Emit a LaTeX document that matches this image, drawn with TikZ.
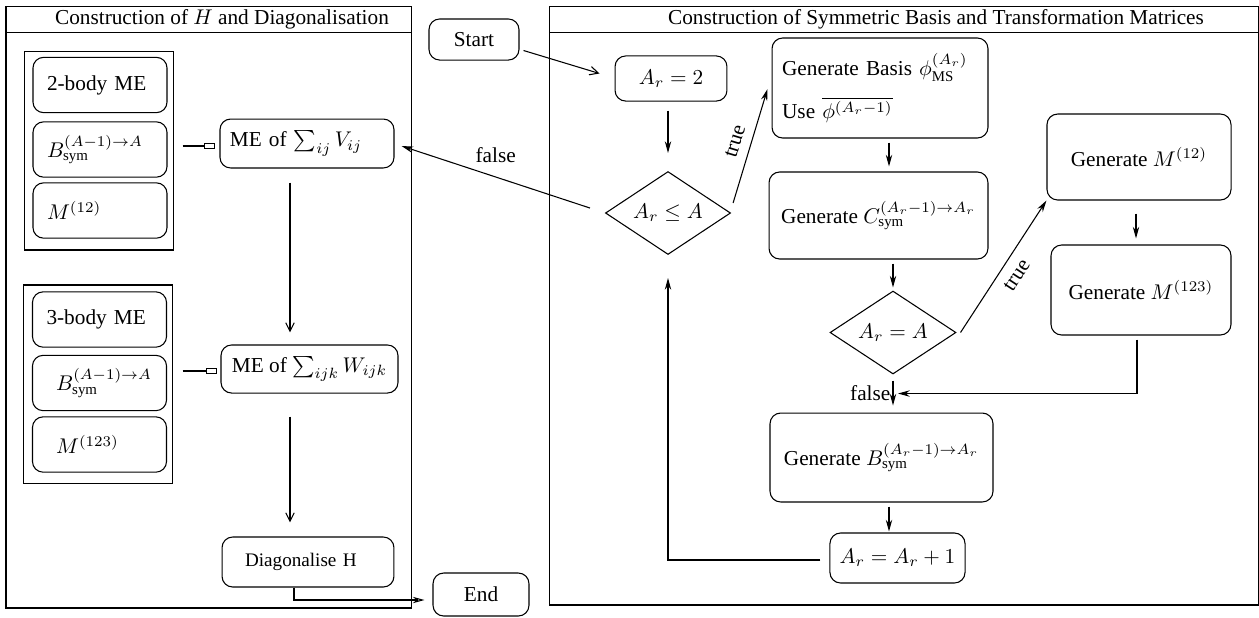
\documentclass[tikz,border=0pt]{standalone}
\usepackage{amsmath}
\usepackage{amssymb}
\usepackage[no-math]{fontspec}
\setmainfont{Liberation Serif}
\usetikzlibrary{shapes.geometric,arrows.meta}

\begin{document}
\begin{tikzpicture}[x=0.47pt,y=-0.47pt,line width=0.5pt,>={Stealth[length=5.5pt,width=3pt]},
box/.style={draw,rounded corners=5pt,inner sep=0pt},grp/.style={draw,inner sep=0pt},
dec/.style={draw,diamond,aspect=1.5,inner sep=0pt},
lab/.style={sloped,above=1pt,pos=0.5},lab1/.style={sloped,below=1pt,pos=0.5},
bar/.style={-{Rectangle[open,length=5.2pt,width=2.8pt]}},
vee/.style={-{Straight Barb[length=4pt,width=4pt]}}]
\useasboundingbox (0,0) rectangle (1259,617);
% the two panels
\node[grp,minimum width=190.6pt,minimum height=282.9pt] (pL) at (208.75,307) {};
\node[grp,minimum width=332.8pt,minimum height=281.5pt] (pR) at (904,305.5) {};
\draw ([shift={(0,27)}]pL.north west) -- ([shift={(0,27)}]pL.north east);
\draw ([shift={(0,27)}]pR.north west) -- ([shift={(0,27)}]pR.north east);
\node (tL) at (222,19) {Construction of $H$ and Diagonalisation};
\node (tR) at (936,19) {Construction of Symmetric Basis and Transformation Matrices};
% left panel
\node[grp,minimum width=69.6pt,minimum height=93.5pt] (g1) at (99,150.5) {};
\node[grp,minimum width=69.6pt,minimum height=93.1pt] (g2) at (98,384) {};
\foreach \n/\x/\y/\txt in {b1/100/85/{2-body ME},b2/100/149.5/{$B_{\text{sym}}^{(A-1)\to A}$},b3/100/210.5/{$M^{(12)}$},
  b4/99.5/319.5/{3-body ME},b5/99.5/383/{\hspace*{4.5pt}$B_{\text{sym}}^{(A-1)\to A}$},b6/99.5/444.5/{\hspace*{4.5pt}$M^{(123)}$}}
  {\node[box,minimum width=63pt,minimum height=26pt,text width=49.8pt,align=left] (\n) at (\x,\y) {\txt};};
\node[box,minimum width=81.8pt,minimum height=23pt,text width=72.4pt,align=left] (meV) at (307,143.5) {ME of $\sum_{ij}V_{ij}$};
\node[box,minimum width=83.2pt,minimum height=22.6pt] (meW) at (309.5,369) {ME of $\sum_{ijk}W_{ijk}$};
\node[box,minimum width=80.8pt,minimum height=23.5pt,text width=59.2pt,align=left,font=\small] (diag) at (308,562) {Diagonalise H};
\node[box,minimum width=42.3pt,minimum height=19.3pt] (start) at (474,39.5) {Start};
\node[box,minimum width=45.1pt,minimum height=20.2pt] (finish) at (481,594.5) {End};
% right panel
\node[box,minimum width=52.6pt,minimum height=21.2pt] (ar2) at (671,78.5) {$A_r=2$};
\node[dec,minimum width=58.8pt,minimum height=39pt] (d1) at (668,213) {$A_r\leq A$};
\node[box,minimum width=101.5pt,minimum height=47pt,text width=92pt,align=left] (basis) at (880,88) {Generate Basis $\phi^{(A_r)}_{\text{MS}}$\\[6pt]Use $\overline{\phi^{(A_r-1)}}$};
\node[box,minimum width=102.9pt,minimum height=40.9pt] (cgen) at (878.5,215.5) {Generate $C_{\text{sym}}^{(A_r-1)\to A_r}$};
\node[dec,minimum width=59.2pt,minimum height=39pt] (d2) at (893,332.5) {$A_r=A$};
\node[box,minimum width=86.5pt,minimum height=40.4pt] (m12) at (1139,157) {Generate $M^{(12)}$};
\node[box,minimum width=84.6pt,minimum height=42.3pt] (m123) at (1141,290) {Generate $M^{(123)}$};
\node[box,minimum width=104.8pt,minimum height=41.8pt] (bgen) at (881.5,457.5) {Generate $B_{\text{sym}}^{(A_r-1)\to A_r}$};
\node[box,minimum width=63.5pt,minimum height=23.5pt] (arp1) at (897.5,558) {$A_r=A_r+1$};
% connectors
\draw[vee] ([shift={(4,11)}]start.east) -- ([shift={(-15,-5)}]ar2.west);
\draw[->] ([shift={(-3,9)}]ar2.south) -- ([shift={(0,-18)}]d1.north);
\draw[->] ([shift={(2,-10)}]d1.east) -- node[lab]{true} ([shift={(-4,1)}]basis.west);
\draw[->] ([shift={(-15,-5)}]d1.west) -- node[above=3pt]{false} ([shift={(7,2.5)}]meV.east);
\draw[->] ([shift={(9,4)}]basis.south) -- ([shift={(10.5,-5)}]cgen.north);
\draw[->] ([shift={(14.5,4)}]cgen.south) -- ([shift={(0,-3)}]d2.north);
\draw[->] ([shift={(4,0)}]d2.east) -- node[lab1]{true} (m12.south west);
\draw[->] ([shift={(-3,13)}]m12.south) -- ([shift={(-5,-6)}]m123.north);
\draw[->] ([shift={(-4,4)}]m123.south) |- ([shift={(5,19)}]d2.south);
\draw[->] ([shift={(0,6)}]d2.south) -- node[left,inner sep=1pt]{false} ([shift={(11.5,-7)}]bgen.north);
\draw[->] ([shift={(7.5,4)}]bgen.south) -- ([shift={(-8.5,-1)}]arp1.north);
\draw[->] ([shift={(-9,2)}]arp1.west) -| ([shift={(0,23)}]d1.south);
\draw[bar] ([shift={(9,-4.5)}]g1.east) -- ([shift={(-4,2.5)}]meV.west);
\draw[bar] ([shift={(10,-13)}]g2.east) -- ([shift={(-3,2)}]meW.west);
\draw[vee] ([shift={(-17,14)}]meV.south) -- ([shift={(-19.5,-12)}]meW.north);
\draw[vee] ([shift={(-19.5,23)}]meW.south) -- ([shift={(-18,-14)}]diag.north);
\draw[-{Stealth[open,length=5.5pt,width=3pt]}] ([shift={(-14,0)}]diag.south) |- ([shift={(-8,5.5)}]finish.west);
\end{tikzpicture}
\end{document}
